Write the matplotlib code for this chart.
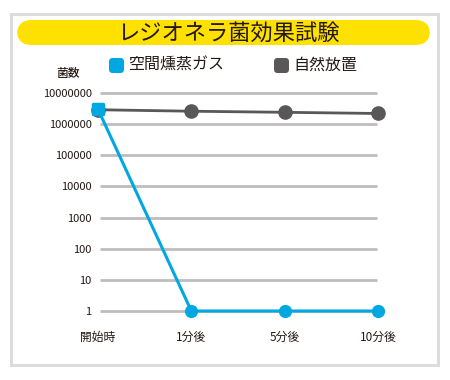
import matplotlib
matplotlib.use('Agg')
import matplotlib.pyplot as plt
from matplotlib.patches import FancyBboxPatch, Rectangle
from matplotlib.markers import MarkerStyle

plt.rcParams['font.family'] = ['Noto Sans CJK JP', 'DejaVu Sans']

categories = ['開始時', '1分後', '5分後', '10分後']
gas = [3.0e6, 1, 1, 1]
natural = [2.9e6, 2.6e6, 2.4e6, 2.2e6]
yticks = [1, 10, 100, 1000, 10000, 100000, 1000000, 10000000]
ytick_labels = ['1', '10', '100', '1000', '10000', '100000', '1000000', '10000000']
title = 'レジオネラ菌効果試験'
gas_label = '空間燻蒸ガス'
natural_label = '自然放置'

blue = '#00A7E1'
dark = '#595757'
yellow = '#FFE100'
text_color = '#231815'

W, H = 450, 380
fig = plt.figure(figsize=(W / 100, H / 100), dpi=100)


def px(x, y):
    # pixel (from top-left) -> figure fraction
    return x / W, 1 - y / H


# outer frame
x0, y0 = px(11, 365)
fig.patches.append(Rectangle((x0, y0), 427 / W, 351 / H, transform=fig.transFigure,
                             facecolor='white', edgecolor='#DCDCDC', linewidth=2.2,
                             zorder=-5))

# yellow title bar
bx, by = px(17, 45)
bh = 25 / H
fig.patches.append(FancyBboxPatch((bx, by), 413 / W, bh,
                                  boxstyle='round,pad=0,rounding_size=0.0329',
                                  transform=fig.transFigure, facecolor=yellow,
                                  edgecolor=yellow, linewidth=0, mutation_aspect=W / H,
                                  zorder=-4))
tx, ty = px(228, 33)
fig.text(tx, ty, title, ha='center', va='center', fontsize=16, color=text_color)

# legend
for sx, col, lab in [(109, blue, gas_label), (274, dark, natural_label)]:
    lx, ly = px(sx, 73)
    fig.patches.append(FancyBboxPatch((lx, ly), 15 / W, 15 / H,
                                      boxstyle='round,pad=0,rounding_size=0.008',
                                      transform=fig.transFigure, facecolor=col,
                                      edgecolor='none', mutation_aspect=W / H,
                                      zorder=-4))
    qx, qy = px(sx + 19, 65)
    fig.text(qx, qy, lab, ha='left', va='center', fontsize=11.5, color=text_color)

ux, uy = px(68, 73)
fig.text(ux, uy, '菌数', ha='center', va='center', fontsize=8.5, color=text_color,
         fontweight='medium')

ax = fig.add_axes([93 / W, (H - 320) / H, 290 / W, 235 / H])
ax.set_yscale('log')
ax.set_xlim(-0.0536, 3.0536)
ax.set_ylim(10 ** -0.289, 10 ** 7.257)
ax.patch.set_alpha(0)
for s in ax.spines.values():
    s.set_visible(False)

ax.hlines(yticks, 0.02, 2.99, colors='#BDBDBD', linewidth=2, zorder=1)

x = list(range(len(categories)))
ax.plot(x, natural, color=dark, linewidth=2, marker='o', markersize=9.5, zorder=3,
        clip_on=False)
ax.plot(x, gas, color=blue, linewidth=2.2, zorder=4, clip_on=False)
ax.plot(x[1:], gas[1:], linestyle='none', color=blue, marker='o', markersize=8.5,
        zorder=4, clip_on=False)
ax.plot(x[:1], gas[:1], linestyle='none', color=blue,
        marker=MarkerStyle('s', joinstyle='round'), markersize=7.5,
        markeredgewidth=2.5, markeredgecolor=blue, zorder=5, clip_on=False)

ax.set_yticks(yticks)
ax.set_yticklabels(ytick_labels)
ax.minorticks_off()
ax.set_xticks(x)
ax.set_xticklabels(categories)
ax.tick_params(axis='y', length=0, pad=1, labelsize=8, labelcolor=text_color)
ax.tick_params(axis='x', length=0, pad=8, labelsize=8.5, labelcolor=text_color)

fig.savefig('out.png', dpi=100)
